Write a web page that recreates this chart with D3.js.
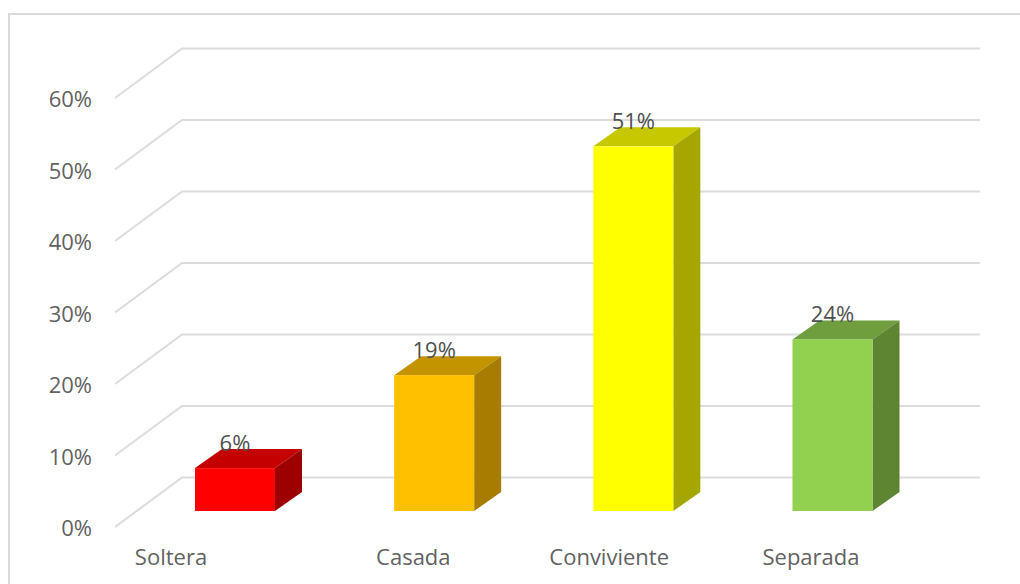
<!DOCTYPE html>
<html><head><meta charset="utf-8">
<script src="https://cdn.jsdelivr.net/npm/d3@7"></script>
<style>html,body{margin:0;padding:0;background:#fff;overflow:hidden}svg{display:block}text{font-family:"Open Sans",sans-serif}</style>
</head><body><svg id="c" width="1020" height="584"></svg>
<script>
const categories = ["Soltera","Casada","Conviviente","Separada"];
const values = [6,19,51,24];
const faceColors = ["#ff0000","#ffc000","#ffff00","#92d050"];
const topColors = ["#c40000","#c49400","#c8c800","#6f9e3e"];
const sideColors = ["#9c0000","#a67d00","#a6a600","#5d8532"];
const ticks = [0,10,20,30,40,50,60];

const svg = d3.select("#c");
const W=1020,H=584;
const y = d3.scaleLinear().domain([0,60]).range([511,82]);
const x = d3.scalePoint().domain(categories).range([235,832.5]);
const xLabel = d3.scalePoint().domain(categories).range([171,811]);
const labelShift = {Casada:29, Conviviente:11.5};
const barW = 80, dx = 27, dy = 19;
const wallDy = 34;

svg.append("path").attr("d",`M9,${H}V14H${W}`).attr("fill","none").attr("stroke","#d9d9d9").attr("stroke-width",2);

const grid = svg.append("g").attr("fill","none").attr("stroke","#dcdcdc").attr("stroke-width",2);
ticks.forEach(t=>{
  const yb = y(t)-wallDy+.5;
  grid.append("path").attr("d",`M115,${yb+wallDy+15.5}L182,${yb}H980`);
});

svg.append("g").selectAll("text").data(ticks).join("text")
  .attr("x",92).attr("y",t=>y(t)+25).attr("text-anchor","end")
  .attr("font-size",22).attr("fill","#626262")
  .text(t=>t+"%");

const bars = svg.append("g").selectAll("g").data(categories).join("g");
bars.each(function(c,i){
  const g=d3.select(this), l=x(c)-barW/2, r=l+barW, t=y(values[i]), b=y(0);
  g.append("polygon").attr("fill",topColors[i]).attr("points",[[l,t],[l+dx,t-dy],[r+dx,t-dy],[r,t]].join(" "));
  g.append("polygon").attr("fill",sideColors[i]).attr("points",[[r,t],[r+dx,t-dy],[r+dx,b-dy],[r,b]].join(" "));
  g.append("rect").attr("x",l).attr("y",t).attr("width",barW).attr("height",b-t).attr("fill",faceColors[i]);
});

svg.append("g").selectAll("text").data(categories).join("text")
  .attr("x",c=>xLabel(c)+(labelShift[c]||0)).attr("y",564.5)
  .attr("text-anchor","middle").attr("font-size",22).attr("fill","#626262").text(c=>c);

svg.append("g").selectAll("text").data(categories).join("text")
  .attr("x",c=>x(c)).attr("y",(c,i)=>y(values[i])-17).attr("text-anchor","middle")
  .attr("font-size",22).attr("fill","#505050").text((c,i)=>values[i]+"%");
</script></body></html>
